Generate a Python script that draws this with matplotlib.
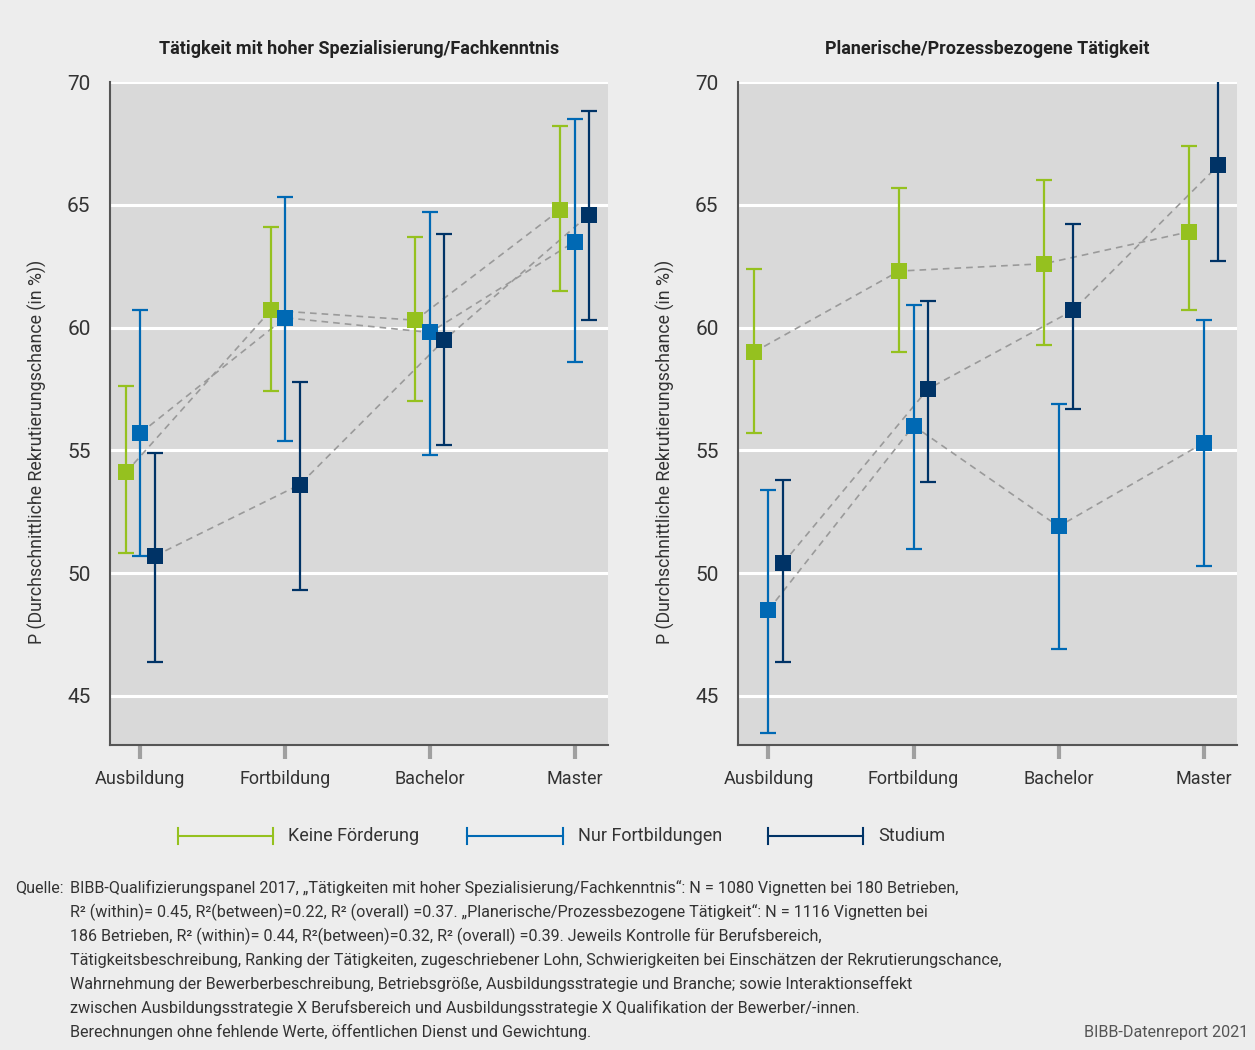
import matplotlib
matplotlib.use("Agg")
import matplotlib.pyplot as plt
from matplotlib.lines import Line2D
import numpy as np

plt.rcParams['font.family'] = ['Roboto', 'DejaVu Sans']

categories = ["Ausbildung", "Fortbildung", "Bachelor", "Master"]
series = ["Keine Förderung", "Nur Fortbildungen", "Studium"]
colors = ["#95C11F", "#0069B4", "#003366"]

titles = ["Tätigkeit mit hoher Spezialisierung/Fachkenntnis",
          "Planerische/Prozessbezogene Tätigkeit"]

# Panel 1: Tätigkeit mit hoher Spezialisierung/Fachkenntnis
p1_keine = [54.1, 60.7, 60.3, 64.8]
p1_keine_lo = [50.8, 57.4, 57.0, 61.5]
p1_keine_hi = [57.6, 64.1, 63.7, 68.2]
p1_nur = [55.7, 60.4, 59.8, 63.5]
p1_nur_lo = [50.7, 55.4, 54.8, 58.6]
p1_nur_hi = [60.7, 65.3, 64.7, 68.5]
p1_stud = [50.7, 53.6, 59.5, 64.6]
p1_stud_lo = [46.4, 49.3, 55.2, 60.3]
p1_stud_hi = [54.9, 57.8, 63.8, 68.8]

# Panel 2: Planerische/Prozessbezogene Tätigkeit
p2_keine = [59.0, 62.3, 62.6, 63.9]
p2_keine_lo = [55.7, 59.0, 59.3, 60.7]
p2_keine_hi = [62.4, 65.7, 66.0, 67.4]
p2_nur = [48.5, 56.0, 51.9, 55.3]
p2_nur_lo = [43.5, 51.0, 46.9, 50.3]
p2_nur_hi = [53.4, 60.9, 56.9, 60.3]
p2_stud = [50.4, 57.5, 60.7, 66.6]
p2_stud_lo = [46.4, 53.7, 56.7, 62.7]
p2_stud_hi = [53.8, 61.1, 64.2, 70.1]

panels = [
    [(p1_keine, p1_keine_lo, p1_keine_hi), (p1_nur, p1_nur_lo, p1_nur_hi), (p1_stud, p1_stud_lo, p1_stud_hi)],
    [(p2_keine, p2_keine_lo, p2_keine_hi), (p2_nur, p2_nur_lo, p2_nur_hi), (p2_stud, p2_stud_lo, p2_stud_hi)],
]

W, H = 1255, 1050
fig = plt.figure(figsize=(W / 100, H / 100), dpi=100, facecolor="#EDEDED")

ax_rects = [
    [110 / W, 1 - 745 / H, 498 / W, (745 - 82) / H],
    [738 / W, 1 - 745 / H, 499 / W, (745 - 82) / H],
]
offsets = [-0.1, 0.0, 0.1]
x = np.arange(len(categories))

for pi, (rect, data, title) in enumerate(zip(ax_rects, panels, titles)):
    ax = fig.add_axes(rect)
    ax.set_facecolor("#D9D9D9")
    ax.set_ylim(43, 70)
    ax.set_xlim(-0.21, 3.23)
    ax.set_yticks([45, 50, 55, 60, 65, 70])
    ax.yaxis.grid(True, color="white", linewidth=2.2)
    ax.set_axisbelow(True)
    for s in ["top", "right"]:
        ax.spines[s].set_visible(False)
    for s in ["left", "bottom"]:
        ax.spines[s].set_color("#555555")
        ax.spines[s].set_linewidth(1.5)
    ax.tick_params(axis="y", length=0, labelsize=15, pad=14, labelcolor="#333333")
    ax.tick_params(axis="x", length=10, width=3, color="#A0A0A0", labelsize=13,
                   pad=8, labelcolor="#333333")
    ax.set_xticks(x)
    ax.set_xticklabels(categories)
    ax.set_ylabel("P (Durchschnittliche Rekrutierungschance (in %))", fontsize=12.8,
                  color="#333333")
    ax.yaxis.set_label_coords(-0.127, 0.442)
    ax.set_title(title, fontsize=13, fontweight="bold", color="#222222", pad=20)

    for si, ((vals, lo, hi), c, off) in enumerate(zip(data, colors, offsets)):
        xs = x + off
        vals = np.array(vals)
        yerr = [vals - np.array(lo), np.array(hi) - vals]
        ax.plot(xs, vals, linestyle=(0, (4, 3)), color="#9A9A9A", linewidth=1.2, zorder=2)
        ax.errorbar(xs, vals, yerr=yerr, fmt="none", ecolor=c, elinewidth=1.6,
                    capsize=5.5, capthick=1.6, zorder=3)
        ax.plot(xs, vals, linestyle="none", marker="s", markersize=11.5,
                color=c, markeredgewidth=0, zorder=4)

# Legend drawn manually
leg_y = 1 - 836 / H
leg_items = [(178, 273, 288), (467, 563, 578), (768, 863, 878)]
for (x0, x1, xt), c, name in zip(leg_items, colors, series):
    fig.add_artist(Line2D([x0 / W, x1 / W], [leg_y, leg_y], color=c, linewidth=1.5,
                          transform=fig.transFigure))
    for xx in (x0, x1):
        fig.add_artist(Line2D([xx / W, xx / W], [leg_y - 8 / H, leg_y + 8 / H], color=c,
                              linewidth=1.5, transform=fig.transFigure))
    fig.text(xt / W, leg_y, name, fontsize=13, color="#333333", va="center", ha="left")

# Footnote
foot_lines = [
    "BIBB-Qualifizierungspanel 2017, „Tätigkeiten mit hoher Spezialisierung/Fachkenntnis“: N = 1080 Vignetten bei 180 Betrieben,",
    "R² (within)= 0.45, R²(between)=0.22, R² (overall) =0.37. „Planerische/Prozessbezogene Tätigkeit“: N = 1116 Vignetten bei",
    "186 Betrieben, R² (within)= 0.44, R²(between)=0.32, R² (overall) =0.39. Jeweils Kontrolle für Berufsbereich,",
    "Tätigkeitsbeschreibung, Ranking der Tätigkeiten, zugeschriebener Lohn, Schwierigkeiten bei Einschätzen der Rekrutierungschance,",
    "Wahrnehmung der Bewerberbeschreibung, Betriebsgröße, Ausbildungsstrategie und Branche; sowie Interaktionseffekt",
    "zwischen Ausbildungsstrategie X Berufsbereich und Ausbildungsstrategie X Qualifikation der Bewerber/-innen.",
    "Berechnungen ohne fehlende Werte, öffentlichen Dienst und Gewichtung.",
]
fig.text(15 / W, 1 - 888 / H, "Quelle:", fontsize=11.6, color="#333333", va="center", ha="left")
for i, line in enumerate(foot_lines):
    fig.text(70 / W, 1 - (888 + 24 * i) / H, line, fontsize=11.6, color="#333333",
             va="center", ha="left")
fig.text(1248 / W, 1 - 1032 / H, "BIBB-Datenreport 2021", fontsize=11.6, color="#555555",
         va="center", ha="right")

fig.savefig("out.png", dpi=100, facecolor=fig.get_facecolor())
